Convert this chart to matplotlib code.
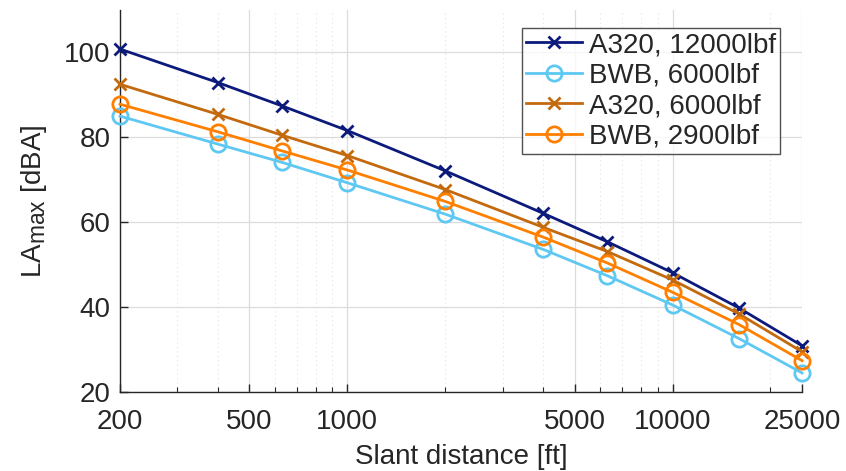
import matplotlib
matplotlib.use("Agg")
import matplotlib.pyplot as plt
import matplotlib._mathtext as mathtext_impl
from matplotlib.ticker import FixedLocator, NullFormatter

plt.rcParams['font.family'] = ['Liberation Sans', 'DejaVu Sans']
# larger subscripts in the axis label
mathtext_impl.SHRINK_FACTOR = 0.82

distance_ft = [200, 400, 630, 1000, 2000, 4000, 6300, 10000, 16000, 25000]

a320_12000 = [100.8, 92.9, 87.4, 81.6, 72.1, 62.1, 55.4, 48.1, 39.8, 30.9]
bwb_6000 = [85.0, 78.4, 74.1, 69.3, 61.9, 53.6, 47.4, 40.5, 32.6, 24.5]
a320_6000 = [92.5, 85.4, 80.5, 75.7, 67.7, 58.8, 53.1, 46.4, 38.4, 29.5]
bwb_2900 = [87.8, 81.3, 76.8, 72.3, 64.9, 56.5, 50.4, 43.5, 35.9, 27.4]

x_ticks = [200, 500, 1000, 5000, 10000, 25000]
x_tick_labels = ['200', '500', '1000', '5000', '10000', '25000']
y_ticks = [20, 40, 60, 80, 100]

series = [
    (a320_12000, 'A320, 12000lbf', '#0c1a7c', 'x'),
    (bwb_6000, 'BWB, 6000lbf', '#5ec8f2', 'o'),
    (a320_6000, 'A320, 6000lbf', '#c46a0e', 'x'),
    (bwb_2900, 'BWB, 2900lbf', '#ff8000', 'o'),
]

text_color = '#262626'
fs = 20

fig = plt.figure(figsize=(8.46, 4.71), dpi=100)
ax = fig.add_axes([120 / 846, 1 - 392 / 471, 682 / 846, 382 / 471])

for values, label, color, marker in series:
    if marker == 'o':
        ax.plot(distance_ft, values, color=color, lw=2, marker='o',
                markersize=11, markerfacecolor='none', markeredgewidth=2,
                label=label, clip_on=False, zorder=3)
    else:
        ax.plot(distance_ft, values, color=color, lw=2, marker='x',
                markersize=8, markeredgewidth=2, label=label,
                clip_on=False, zorder=3)

ax.set_xscale('log')
ax.set_xlim(200, 25000)
ax.set_ylim(20, 110)

minor_x = [m * 10 ** e for e in (2, 3, 4) for m in range(1, 10)]
minor_x = [v for v in minor_x if 200 < v < 25000 and v not in x_ticks]
ax.xaxis.set_major_locator(FixedLocator(x_ticks))
ax.set_xticklabels(x_tick_labels)
ax.xaxis.set_minor_locator(FixedLocator(minor_x))
ax.xaxis.set_minor_formatter(NullFormatter())
ax.set_yticks(y_ticks)

ax.grid(True, which='major', color='#dcdcdc', lw=0.9)
ax.grid(True, which='minor', axis='x', color='#e2e2e2', lw=0.8, ls=(0, (1, 3)))
ax.set_axisbelow(True)

for side in ('top', 'right'):
    ax.spines[side].set_visible(False)
for side in ('left', 'bottom'):
    ax.spines[side].set_color(text_color)
    ax.spines[side].set_linewidth(1.0)

ax.tick_params(which='both', direction='in', colors=text_color, labelsize=fs)
ax.tick_params(which='major', length=6, width=1)
ax.tick_params(which='minor', length=3.5, width=0.8)
ax.tick_params(axis='x', pad=12)
ax.tick_params(axis='y', pad=7)

ax.set_xlabel('Slant distance [ft]', fontsize=fs, color=text_color, labelpad=7)
ax.set_ylabel(r'LA$_{\mathregular{max}}$ [dBA]', fontsize=fs, color=text_color, labelpad=11)

leg = ax.legend(loc='upper right', bbox_to_anchor=(780 / 846, 1 - 28 / 471),
                bbox_transform=fig.transFigure, fontsize=fs, frameon=True,
                fancybox=False, edgecolor=text_color, handlelength=2.0,
                handletextpad=0.25, borderpad=0.15, labelspacing=0.16,
                borderaxespad=0)
leg.get_frame().set_linewidth(1.0)
for t in leg.get_texts():
    t.set_color(text_color)

fig.savefig('out.png', dpi=100)
